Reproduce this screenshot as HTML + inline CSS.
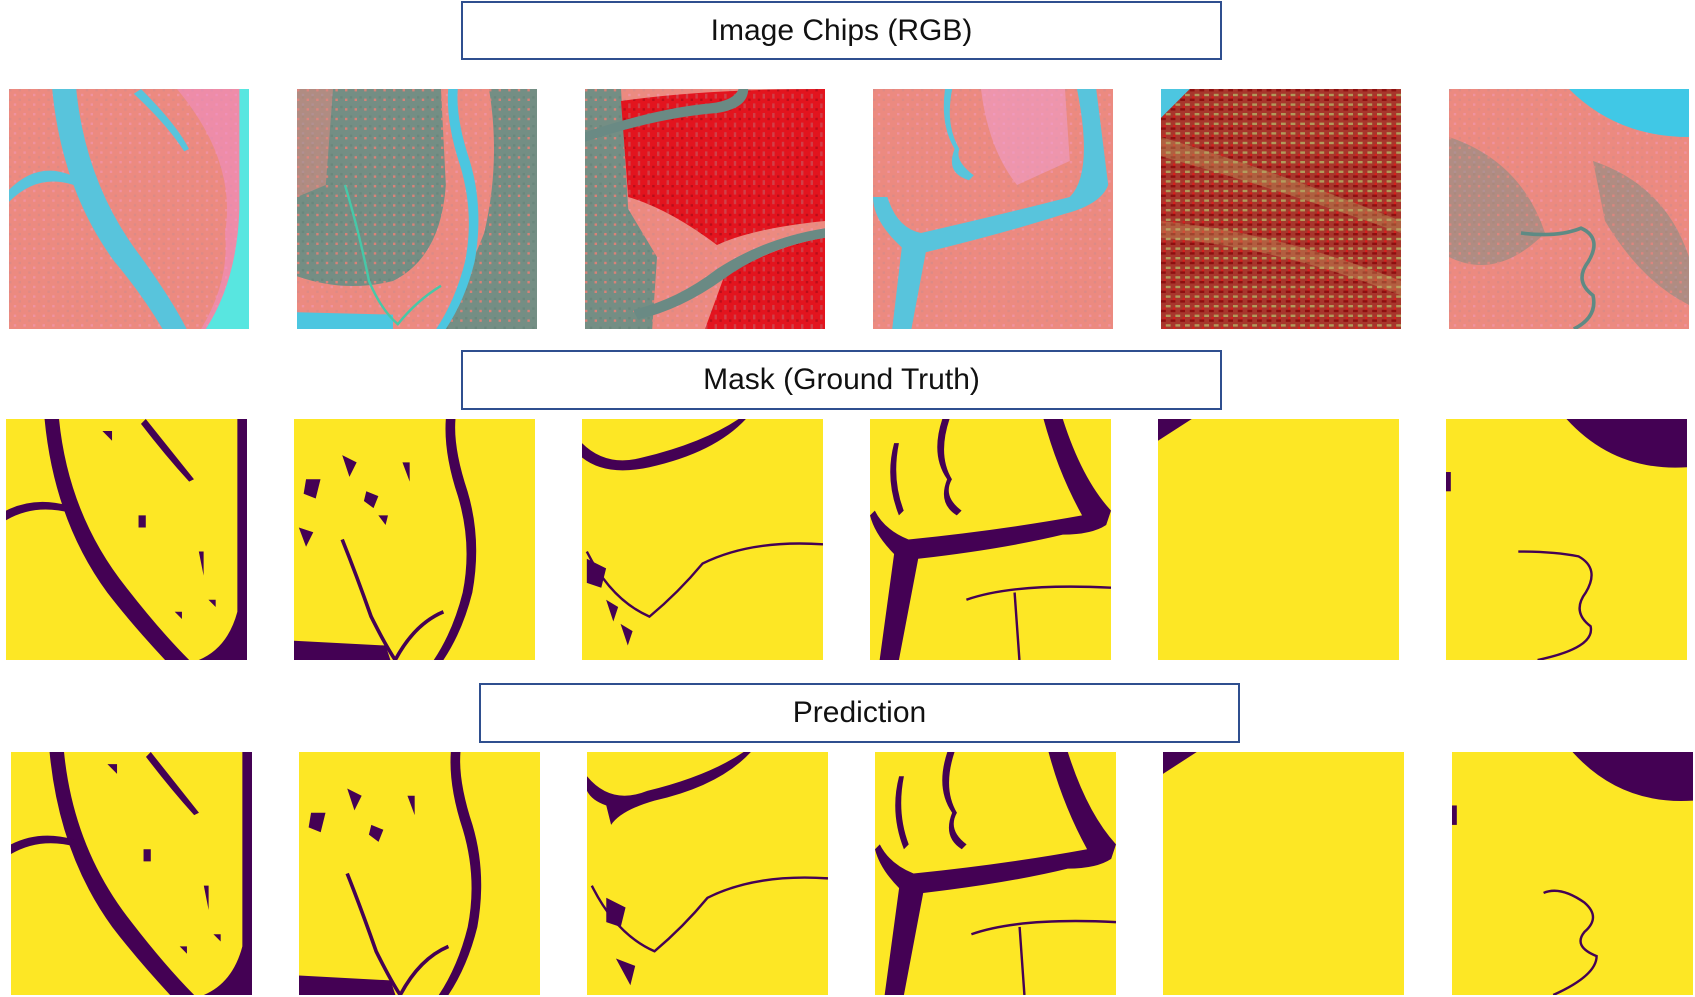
<!DOCTYPE html>
<html><head><meta charset="utf-8"><style>
html,body{margin:0;padding:0;background:#fff;width:1695px;height:997px;overflow:hidden;position:relative;font-family:"Liberation Sans","DejaVu Sans",sans-serif}
.box{position:absolute;border:2px solid #2f4f8f;box-sizing:border-box;display:flex;align-items:center;justify-content:center;font-size:30px;color:#111;background:#fff}
svg.tile{position:absolute;width:241px;height:241px}
</style></head><body>
<svg width="0" height="0" style="position:absolute">
<defs>
<pattern id="tex1" width="4" height="4" patternUnits="userSpaceOnUse"><rect width="4" height="4" fill="#ec8a80"/><rect x="0" y="0" width="1" height="1" fill="#dc8a86"/><rect x="2" y="2" width="1" height="1" fill="#ef92a0"/></pattern>
<pattern id="texR" width="4" height="4" patternUnits="userSpaceOnUse"><rect width="4" height="4" fill="#e3141e"/><rect x="0" y="0" width="1" height="1" fill="#b80e1a"/><rect x="2" y="2" width="1" height="2" fill="#d04048"/></pattern>
<pattern id="texD" width="4" height="4" patternUnits="userSpaceOnUse"><rect width="4" height="4" fill="#a8362c"/><rect x="0" y="0" width="2" height="1" fill="#8d0f10"/><rect x="2" y="2" width="2" height="1" fill="#b29a5a"/><rect x="1" y="3" width="1" height="1" fill="#d6201e"/></pattern>
<pattern id="texG" width="4" height="4" patternUnits="userSpaceOnUse"><rect width="4" height="4" fill="#748e84"/><rect x="0" y="0" width="1" height="1" fill="#d98278"/><rect x="2" y="3" width="1" height="1" fill="#6a877c"/></pattern>
</defs></svg>

<div class="box" style="left:461px;top:1px;width:761px;height:59px">Image Chips (RGB)</div>
<div class="box" style="left:461px;top:350px;width:761px;height:60px">Mask (Ground Truth)</div>
<div class="box" style="left:479px;top:683px;width:761px;height:60px">Prediction</div>

<!-- Row 1 RGB -->
<svg class="tile" style="left:9px;top:89px;width:240px;height:240px" viewBox="0 0 100 100" preserveAspectRatio="none">
<rect width="100" height="100" fill="url(#tex1)"/>
<path d="M70 0 L100 0 L100 100 L80 100 Q92 80 90 60 Q95 30 70 0Z" fill="#f08ed0" opacity=".5"/>
<path d="M96 0 L100 0 L100 100 L82 100 Q95 80 96 50Z" fill="#58e6e0"/>
<path d="M18 0 L28 0 Q32 40 55 70 Q68 88 74 100 L64 100 Q55 85 44 72 Q22 42 18 0Z" fill="#58c4dc"/>
<path d="M0 42 Q12 30 26 36 L27 40 Q12 35 0 47Z" fill="#58c4dc"/>
<path d="M55 0 Q70 15 75 25 L73 26 Q66 15 52 2Z" fill="#58c4dc"/>
</svg>
<svg class="tile" style="left:297px;top:89px;width:240px;height:240px" viewBox="0 0 100 100" preserveAspectRatio="none">
<rect width="100" height="100" fill="url(#texG)"/>
<path d="M60 0 L80 0 Q85 30 78 60 Q70 80 60 100 L0 100 L0 78 Q20 85 40 80 Q60 70 62 40Z" fill="url(#tex1)"/>
<path d="M0 0 L15 0 L12 40 L0 45Z" fill="url(#tex1)" opacity=".5"/>
<path d="M63 0 L67 0 Q66 12 72 30 Q78 50 74 72 Q70 88 62 100 L58 100 Q66 88 70 72 Q74 52 68 32 Q62 14 63 0Z" fill="#4cc6e0"/>
<path d="M0 93 L40 94 L40 100 L0 100Z" fill="#4cc6e0"/>
<path d="M20 40 Q26 60 30 80 Q35 92 42 98 Q50 88 60 82" stroke="#46c8a8" stroke-width="1" fill="none"/>
</svg>
<svg class="tile" style="left:585px;top:89px;width:240px;height:240px" viewBox="0 0 100 100" preserveAspectRatio="none">
<rect width="100" height="100" fill="url(#tex1)"/>
<path d="M0 0 L15 0 L18 50 L30 70 L28 100 L0 100Z" fill="url(#texG)"/>
<path d="M15 5 Q50 0 100 0 L100 55 Q70 58 55 65 Q35 50 18 45Z" fill="url(#texR)"/>
<path d="M58 78 Q80 65 100 62 L100 100 L50 100Z" fill="url(#texR)"/>
<path d="M0 22 Q30 12 55 10 Q68 8 68 0 L64 0 Q62 5 52 6 Q30 8 0 18Z" fill="#6a8a84"/>
<path d="M20 92 Q38 88 55 75 Q75 62 100 58 L100 62 Q76 66 58 79 Q40 92 22 96Z" fill="#6a8a84"/>
</svg>
<svg class="tile" style="left:873px;top:89px;width:240px;height:240px" viewBox="0 0 100 100" preserveAspectRatio="none">
<rect width="100" height="100" fill="url(#tex1)"/>
<path d="M45 0 L80 0 L82 30 L60 40 Q48 25 45 0Z" fill="#f0a0d8" opacity=".5"/>
<path d="M85 0 L93 0 L98 40 Q95 48 80 52 Q55 60 22 68 L16 100 L8 100 L12 66 Q0 55 0 45 L6 45 Q10 58 20 60 Q55 52 82 45 Q92 35 85 0Z" fill="#58c4dc"/>
<path d="M30 0 Q28 15 34 25 Q30 35 40 38 L42 36 Q34 30 36 25 Q30 15 33 0Z" fill="#58c4dc"/>
</svg>
<svg class="tile" style="left:1161px;top:89px;width:240px;height:240px" viewBox="0 0 100 100" preserveAspectRatio="none">
<rect width="100" height="100" fill="url(#texD)"/>
<path d="M0 20 Q50 35 100 55 L100 60 Q50 42 0 28Z" fill="#b8a060" opacity=".4"/>
<path d="M0 55 Q50 60 100 80 L100 86 Q50 66 0 62Z" fill="#c8a868" opacity=".35"/>
<path d="M0 0 L12 0 L0 12Z" fill="#4cc6e0"/>
</svg>
<svg class="tile" style="left:1449px;top:89px;width:240px;height:240px" viewBox="0 0 100 100" preserveAspectRatio="none">
<rect width="100" height="100" fill="url(#tex1)"/>
<path d="M0 20 Q30 30 40 60 Q20 80 0 70Z" fill="url(#texG)" opacity=".5"/>
<path d="M60 30 Q90 40 100 70 L100 90 Q80 80 65 55Z" fill="url(#texG)" opacity=".5"/>
<path d="M50 0 Q70 20 100 20 L100 0Z" fill="#40c8e6"/>
<path d="M30 60 Q45 62 55 58 Q64 62 58 72 Q52 80 60 86 Q62 95 52 100" stroke="#5e8a84" stroke-width="1.5" fill="none"/>
</svg>

<!-- Row 2 masks -->
<svg class="tile" style="left:6px;top:419px" viewBox="0 0 100 100" preserveAspectRatio="none">
<rect width="100" height="100" fill="#fde725"/>
<path d="M96 0 L100 0 L100 100 L80 100 Q92 95 96 80Z" fill="#440154"/>
<path d="M16 0 L22 0 Q26 40 50 70 Q64 88 76 100 L66 100 Q52 85 42 72 Q20 42 16 0Z" fill="#440154"/>
<path d="M0 38 Q12 32 26 36 L27 39 Q12 35 0 42Z" fill="#440154"/>
<path d="M58 0 Q70 15 78 25 L76 26 Q66 15 56 2Z M40 5 l4 0 l0 4z M55 40 l3 0 l0 5 l-3 0z M80 55 l2 0 l0 10z M70 80 l3 0 l0 3z M84 75 l3 0 l0 3z" fill="#440154"/>
</svg>
<svg class="tile" style="left:294px;top:419px" viewBox="0 0 100 100" preserveAspectRatio="none">
<rect width="100" height="100" fill="#fde725"/>
<path d="M63 0 L67 0 Q66 12 72 30 Q78 50 74 72 Q70 88 62 100 L58 100 Q66 88 70 72 Q74 52 68 32 Q62 14 63 0Z" fill="#440154"/>
<path d="M0 92 L38 94 L40 100 L0 100Z" fill="#440154"/>
<path d="M20 50 Q26 65 32 82 Q38 94 42 100 Q50 85 62 80" stroke="#440154" stroke-width="1.5" fill="none"/>
<path d="M5 25 l6 0 l-2 8 l-5 -2z M20 15 l6 3 l-3 6z M30 30 l5 2 l-2 5 l-4 -3z M2 45 l6 2 l-3 6z M45 18 l3 0 l0 8z M35 40 l4 0 l-1 4z" fill="#440154"/>
</svg>
<svg class="tile" style="left:582px;top:419px" viewBox="0 0 100 100" preserveAspectRatio="none">
<rect width="100" height="100" fill="#fde725"/>
<path d="M0 10 Q10 20 25 16 Q50 10 65 0 L68 0 Q55 14 28 20 Q10 24 0 16Z" fill="#440154"/>
<path d="M2 55 Q12 75 28 82 Q40 72 50 60 Q70 50 100 52" stroke="#440154" stroke-width="1" fill="none"/>
<path d="M2 58 l8 4 l-2 8 l-6 -2z M10 75 l5 3 l-2 6z M16 85 l5 3 l-2 6z" fill="#440154"/>
</svg>
<svg class="tile" style="left:870px;top:419px" viewBox="0 0 100 100" preserveAspectRatio="none">
<rect width="100" height="100" fill="#fde725"/>
<path d="M72 0 L80 0 Q88 25 100 38 L98 44 Q92 48 80 48 Q55 54 20 58 L12 100 L4 100 L10 56 Q2 48 0 40 L2 38 Q6 46 16 50 Q55 46 88 40 Q78 22 72 0Z" fill="#440154"/>
<path d="M30 0 Q25 15 32 25 Q28 35 36 40 L38 38 Q30 32 34 25 Q28 15 33 0Z M10 10 Q6 25 12 40 L14 38 Q9 25 12 10Z" fill="#440154"/>
<path d="M40 75 Q60 68 100 70 M60 72 L62 100" stroke="#440154" stroke-width="1" fill="none"/>
</svg>
<svg class="tile" style="left:1158px;top:419px" viewBox="0 0 100 100" preserveAspectRatio="none">
<rect width="100" height="100" fill="#fde725"/>
<path d="M0 0 L14 0 L0 9Z" fill="#440154"/>
</svg>
<svg class="tile" style="left:1446px;top:419px" viewBox="0 0 100 100" preserveAspectRatio="none">
<rect width="100" height="100" fill="#fde725"/>
<path d="M50 0 Q70 22 100 20 L100 0Z" fill="#440154"/>
<path d="M30 55 Q45 55 55 57 Q64 62 58 72 Q52 80 60 86 Q62 95 38 100" stroke="#440154" stroke-width="1" fill="none"/>
<path d="M0 22 l2 0 l0 8 l-2 0z" fill="#440154"/>
</svg>

<!-- Row 3 predictions -->
<svg class="tile" style="left:11px;top:752px;height:243px" viewBox="0 0 100 100" preserveAspectRatio="none">
<rect width="100" height="100" fill="#fde725"/>
<path d="M96 0 L100 0 L100 100 L80 100 Q92 95 96 80Z" fill="#440154"/>
<path d="M16 0 L22 0 Q26 40 50 70 Q64 88 76 100 L66 100 Q52 85 42 72 Q20 42 16 0Z" fill="#440154"/>
<path d="M0 38 Q12 32 26 36 L27 39 Q12 35 0 42Z" fill="#440154"/>
<path d="M58 0 Q70 15 78 25 L76 26 Q66 15 56 2Z M40 5 l4 0 l0 4z M55 40 l3 0 l0 5 l-3 0z M80 55 l2 0 l0 10z M70 80 l3 0 l0 3z M84 75 l3 0 l0 3z" fill="#440154"/>
</svg>
<svg class="tile" style="left:299px;top:752px;height:243px" viewBox="0 0 100 100" preserveAspectRatio="none">
<rect width="100" height="100" fill="#fde725"/>
<path d="M63 0 L67 0 Q66 12 72 30 Q78 50 74 72 Q70 88 62 100 L58 100 Q66 88 70 72 Q74 52 68 32 Q62 14 63 0Z" fill="#440154"/>
<path d="M0 92 L38 94 L40 100 L0 100Z" fill="#440154"/>
<path d="M20 50 Q26 65 32 82 Q38 94 42 100 Q50 85 62 80" stroke="#440154" stroke-width="1.5" fill="none"/>
<path d="M5 25 l6 0 l-2 8 l-5 -2z M20 15 l6 3 l-3 6z M30 30 l5 2 l-2 5 l-4 -3z M45 18 l3 0 l0 8z" fill="#440154"/>
</svg>
<svg class="tile" style="left:587px;top:752px;height:243px" viewBox="0 0 100 100" preserveAspectRatio="none">
<rect width="100" height="100" fill="#fde725"/>
<path d="M0 10 Q10 22 25 16 Q50 10 65 0 L68 0 Q55 14 28 20 Q14 24 10 30 L8 22 Q2 20 0 16Z" fill="#440154"/>
<path d="M2 55 Q12 75 28 82 Q40 72 50 60 Q70 50 100 52" stroke="#440154" stroke-width="1" fill="none"/>
<path d="M8 60 l8 4 l-2 8 l-6 -2z M12 85 l8 3 l-2 8z" fill="#440154"/>
</svg>
<svg class="tile" style="left:875px;top:752px;height:243px" viewBox="0 0 100 100" preserveAspectRatio="none">
<rect width="100" height="100" fill="#fde725"/>
<path d="M72 0 L80 0 Q88 25 100 38 L98 44 Q92 48 80 48 Q55 54 20 58 L12 100 L4 100 L10 56 Q2 48 0 40 L2 38 Q6 46 16 50 Q55 46 88 40 Q78 22 72 0Z" fill="#440154"/>
<path d="M30 0 Q25 15 32 25 Q28 35 36 40 L38 38 Q30 32 34 25 Q28 15 33 0Z M10 10 Q6 25 12 40 L14 38 Q9 25 12 10Z" fill="#440154"/>
<path d="M40 75 Q60 68 100 70 M60 72 L62 100" stroke="#440154" stroke-width="1" fill="none"/>
</svg>
<svg class="tile" style="left:1163px;top:752px;height:243px" viewBox="0 0 100 100" preserveAspectRatio="none">
<rect width="100" height="100" fill="#fde725"/>
<path d="M0 0 L14 0 L0 9Z" fill="#440154"/>
</svg>
<svg class="tile" style="left:1452px;top:752px;height:243px" viewBox="0 0 100 100" preserveAspectRatio="none">
<rect width="100" height="100" fill="#fde725"/>
<path d="M50 0 Q70 22 100 20 L100 0Z" fill="#440154"/>
<path d="M38 58 Q45 55 55 62 Q62 68 55 74 Q50 80 60 84 Q60 92 42 100" stroke="#440154" stroke-width="1" fill="none"/>
<path d="M0 22 l2 0 l0 8 l-2 0z" fill="#440154"/>
</svg>
</body></html>
